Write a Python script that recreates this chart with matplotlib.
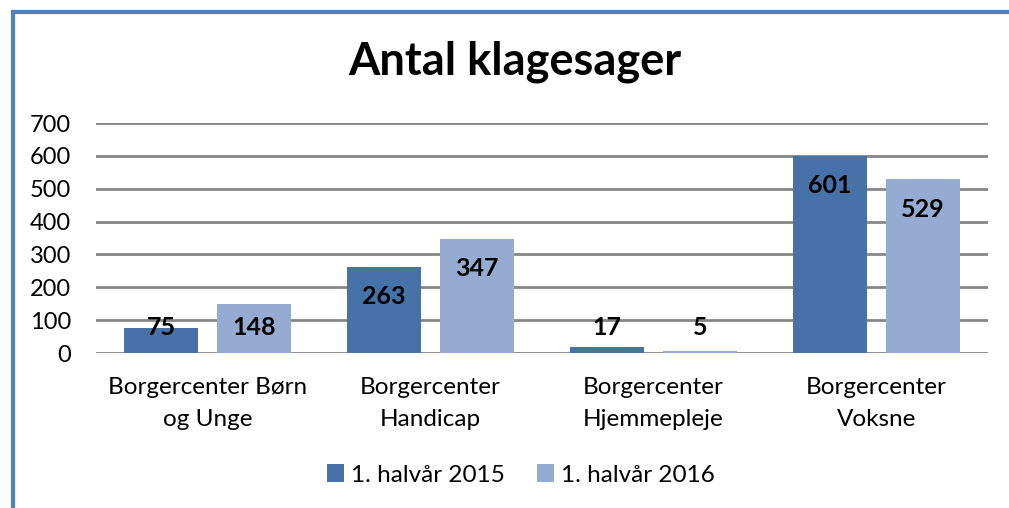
import numpy as np
import matplotlib.pyplot as plt
from matplotlib.lines import Line2D

plt.rcParams['font.family'] = ['Lato', 'DejaVu Sans']

categories = ["Borgercenter Børn\nog Unge", "Borgercenter\nHandicap",
              "Borgercenter\nHjemmepleje", "Borgercenter\nVoksne"]
series_names = ["1. halvår 2015", "1. halvår 2016"]
values_2015 = [75, 263, 17, 601]
values_2016 = [148, 347, 5, 529]
yticks = [0, 100, 200, 300, 400, 500, 600, 700]

dark = "#4672A8"
light = "#95ABD2"

fig = plt.figure(figsize=(10.09, 5.08), dpi=100)
ax = fig.add_axes([96 / 1009, 1 - 353 / 508, 892 / 1009, 230 / 508])

x = np.arange(len(categories))
width = 0.332
offset = 0.2085
b1 = ax.bar(x - offset, values_2015, width, color=dark, label=series_names[0], zorder=3)
b2 = ax.bar(x + offset, values_2016, width, color=light, label=series_names[1], zorder=3)

# labels sit inside the bar top, but not lower than a fixed floor
for bars in (b1, b2):
    for rect in bars:
        v = rect.get_height()
        y = max(v - 91, 79)
        ax.text(rect.get_x() + rect.get_width() / 2, y, f"{v:g}",
                ha="center", va="center", fontsize=18, fontweight="bold", zorder=4)

ax.set_xlim(-0.5, len(categories) - 0.5)
ax.set_ylim(0, 700)
ax.set_yticks(yticks)
ax.set_yticklabels([str(t) for t in yticks], fontsize=17)
ax.set_xticks(x)
ax.set_xticklabels(categories, fontsize=17.5, linespacing=1.65)
ax.tick_params(axis="y", length=0, pad=18)
ax.tick_params(axis="x", length=0, pad=17)
ax.grid(axis="y", color="#868686", linewidth=2, zorder=0)
for s in ax.spines.values():
    s.set_visible(False)

fig.text(515 / 1009, 1 - 62 / 508, "Antal klagesager", ha="center", va="center",
         fontsize=32.5, fontweight="bold")

fig.legend(handles=[b1, b2], labels=series_names, loc="center",
           bbox_to_anchor=(521 / 1009, 1 - 475 / 508), ncol=2, frameon=False,
           fontsize=17.5, handlelength=0.7, handleheight=0.7, handletextpad=0.3,
           columnspacing=1.3)

# chart frame (left and top edges)
fig.add_artist(Line2D([13 / 1009, 13 / 1009], [0, 1 - 12 / 508], transform=fig.transFigure,
                      color="#4F81BD", linewidth=3))
fig.add_artist(Line2D([13 / 1009, 1], [1 - 12 / 508, 1 - 12 / 508], transform=fig.transFigure,
                      color="#4F81BD", linewidth=3))

fig.savefig("out.png", dpi=100)
